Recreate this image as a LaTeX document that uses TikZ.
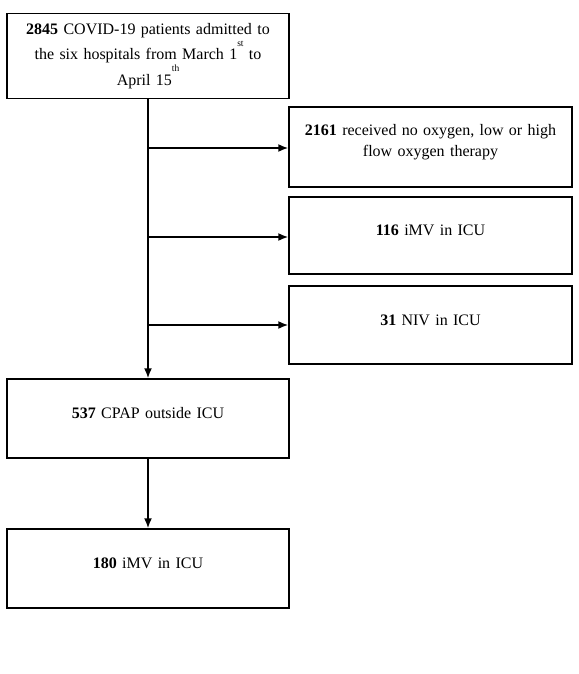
\documentclass[tikz,border=0pt]{standalone}
\usepackage{fontspec}
\setmainfont{Liberation Serif}
\usetikzlibrary{arrows.meta}

\newcommand{\ordsup}[1]{\raisebox{0.85em}{\fontsize{9.5}{9.5}\selectfont #1}}

\tikzset{
  flowbox/.style={draw, line width=1.5pt, align=center, minimum width=282pt,
    text width=276pt, inner xsep=2pt, font=\fontsize{16}{21}\selectfont},
  sidebox/.style={flowbox, minimum width=283pt, text width=277pt},
  lowtext/.style={execute at end node={\par\vspace{10pt}}},
  flowarrow/.style={line width=1.6pt, -{Latex[length=10pt,width=8pt]}}
}

\begin{document}
\begin{tikzpicture}[x=1pt,y=1pt]
    \useasboundingbox (0,0) rectangle (578,-674);
    % main column
    \node[flowbox, minimum height=85pt, font=\fontsize{16}{25.5}\selectfont] (admitted) at (148,-56)
        {\textbf{2845} COVID-19 patients admitted to\\the six hospitals from March 1\ordsup{st} to\\April 15\ordsup{th}};
    \node[flowbox, lowtext, minimum height=79pt] (cpap) at (148,-418.5) {\textbf{537} CPAP outside ICU};
    \node[flowbox, lowtext, minimum height=79pt] (imvlate) at (148,-568.5) {\textbf{180} iMV in ICU};
    % side column
    \node[sidebox, lowtext, minimum height=80pt] (nooxygen) at (430.5,-147)
        {\textbf{2161} received no oxygen, low or high\\flow oxygen therapy};
    \node[sidebox, lowtext, minimum height=77pt] (imvicu) at (430.5,-235.5) {\textbf{116} iMV in ICU};
    \node[sidebox, lowtext, minimum height=78pt] (niv) at (430.5,-325) {\textbf{31} NIV in ICU};
    % branch points on the trunk
    \coordinate (fork1) at (148,-148);
    \coordinate (fork2) at (148,-237);
    \coordinate (fork3) at (148,-325);
    % connectors
    \draw[flowarrow] (admitted.south) -- (cpap.north);
    \draw[flowarrow] (fork1) -- (fork1 -| nooxygen.west);
    \draw[flowarrow] (fork2) -- (fork2 -| imvicu.west);
    \draw[flowarrow] (fork3) -- (fork3 -| niv.west);
    \draw[flowarrow] (cpap.south) -- (imvlate.north);
\end{tikzpicture}
\end{document}
